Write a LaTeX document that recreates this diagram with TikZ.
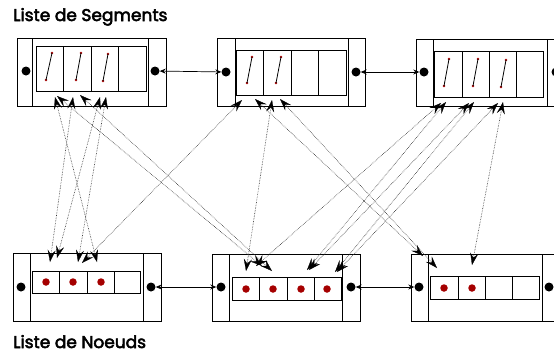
\documentclass[tikz,border=0pt]{standalone}
\usepackage{fontspec}
\setmainfont{Poppins}
\newfontfamily\titlefont[FakeBold=3]{Poppins}
\usetikzlibrary{arrows.meta}
\definecolor{nred}{RGB}{165,0,0}
\tikzset{
  frame/.style={line width=0.95pt, black},
  cellline/.style={line width=0.9pt, black},
  bdot/.style={circle, fill=black, inner sep=0pt, minimum size=9pt},
  rdot/.style={circle, fill=nred, inner sep=0pt, minimum size=7.5pt},
  edot/.style={circle, fill=nred, inner sep=0pt, minimum size=2.8pt},
  segline/.style={line width=0.8pt, black},
  hlink/.style={line width=0.7pt, black, {Stealth[length=6pt,width=5pt,inset=2pt]}-{Stealth[length=6pt,width=5pt,inset=2pt]}},
  ptip/.tip={Stealth[length=12pt,width=8pt,inset=4.5pt,color=black,line width=0.3pt]},
  link/.style={line width=0.6pt, black!80, densely dotted, ptip-ptip},
  title/.style={font=\titlefont\fontsize{17}{20}\selectfont, inner sep=0pt, anchor=base west}
}
\begin{document}
\begin{tikzpicture}[x=1pt,y=-1pt]
\useasboundingbox (0,0) rectangle (554,354);
\clip (0,0) rectangle (554,354);

% titles
\node[title] (tseg) at (13,21) {Liste de Segments};
\node[title] (tnoe) at (13,348) {Liste de Noeuds};

% ---------- segment boxes ----------
% box 1
\draw[frame] (17,38) rectangle (166,106);
\draw[frame] (32,38) -- (32,106);
\draw[frame] (148,38) -- (148,106);
\draw[cellline] (36,46) rectangle (146,91);
\foreach \x in {63,91,118} \draw[cellline] (\x,46) -- (\x,91);
\node[bdot] (b1l) at (26,71) {};
\node[bdot] (b1r) at (155,71) {};
% box 2
\draw[frame] (217,38) rectangle (365,106);
\draw[frame] (235,38) -- (235,106);
\draw[frame] (348,38) -- (348,106);
\draw[cellline] (236,50) rectangle (346,95);
\foreach \x in {263,291,318} \draw[cellline] (\x,50) -- (\x,95);
\node[bdot] (b2l) at (226,72) {};
\node[bdot] (b2r) at (356,72) {};
% box 3
\draw[frame] (416,39) rectangle (564,106);
\draw[frame] (433,39) -- (433,106);
\draw[frame] (547,39) -- (547,106);
\draw[cellline] (434,51) rectangle (543,97);
\foreach \x in {462,489,516} \draw[cellline] (\x,51) -- (\x,97);
\node[bdot] (b3l) at (424,72) {};
\node[bdot] (b3r) at (556,72) {};

% segments inside cells
\foreach \n/\xa/\ya/\xb/\yb in {s1/46/80/52/53, s2/76/80/81/53, s3/103/81/108/54,
   s4/247/83/252/57, s5/276/83/281/57,
   s6/444/86/449/59, s7/473/86/478/59, s8/501/87/506/60}{
  \node[edot] (\n a) at (\xa,\ya) {};
  \node[edot] (\n b) at (\xb,\yb) {};
  \draw[segline] (\n a.center) -- (\n b.center);
}

% ---------- node boxes ----------
% box 4
\draw[frame] (13,253) rectangle (161,321);
\draw[frame] (30,253) -- (30,321);
\draw[frame] (143,253) -- (143,321);
\draw[cellline] (32,271) rectangle (140,293);
\foreach \x in {59,87,114} \draw[cellline] (\x,271) -- (\x,293);
\node[rdot] (n1) at (46,282) {};
\node[rdot] (n2) at (73,282) {};
\node[rdot] (n3) at (101,282) {};
\node[bdot] (b4l) at (21,287) {};
\node[bdot] (b4r) at (151,287) {};
% box 5
\draw[frame] (212,254) rectangle (360,321);
\draw[frame] (229,254) -- (229,321);
\draw[frame] (342,254) -- (342,321);
\draw[cellline] (232,277) rectangle (341,300);
\foreach \x in {259,287,314} \draw[cellline] (\x,277) -- (\x,300);
\node[rdot] (n4) at (246,289) {};
\node[rdot] (n5) at (273,289) {};
\node[rdot] (n6) at (301,289) {};
\node[rdot] (n7) at (327,289) {};
\node[bdot] (b5l) at (221,287) {};
\node[bdot] (b5r) at (351,287) {};
% box 6
\draw[frame] (411,254) rectangle (559,321);
\draw[frame] (428,254) -- (428,321);
\draw[frame] (542,254) -- (542,321);
\draw[cellline] (430,276) rectangle (539,299);
\foreach \x in {458,485,512} \draw[cellline] (\x,276) -- (\x,299);
\node[rdot] (n8) at (444,288) {};
\node[rdot] (n9) at (472,288) {};
\node[bdot] (b6l) at (419,287) {};
\node[bdot] (b6r) at (549,287) {};

% ---------- list links ----------
\draw[hlink] (b1r) -- (b2l);
\draw[hlink] (b2r) -- (b3l);
\draw[hlink] (b4r) -- (b5l);
\draw[hlink] (b5r) -- (b6l);

% ---------- segment <-> node pointers ----------
\foreach \n/\x/\y in {
  uA/55/97, dA/97/262,
  uL1/57/96, dL1/262/266,
  uB/73/97, dB/50/262,
  uL2/80/95, dL2/272/271,
  uC/100/97, dC/57/258,
  uD/106/97, dD/78/262,
  uF/242/100, dF/82/263,
  uH1/255/99, dH1/423/256,
  uG/272/100, dG/246/271,
  uH2/280/99, dH2/437/268,
  uK1/441/103, dK1/256/266,
  uK2/446/102, dK2/307/270,
  uK3/469/103, dK3/309/270,
  uK4/474/102, dK4/335/272,
  uK5/498/103, dK5/337/272,
  uK6/503/102, dK6/472/265}
  \coordinate (\n) at (\x,\y);
\foreach \l in {A,L1,B,L2,C,D,F,H1,G,H2,K1,K2,K3,K4,K5,K6}
  \draw[link] (u\l) -- (d\l);
\end{tikzpicture}
\end{document}
